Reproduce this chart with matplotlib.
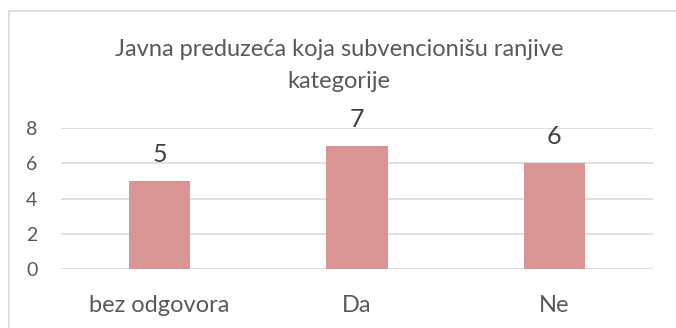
import matplotlib
matplotlib.use("Agg")
import matplotlib.pyplot as plt
from matplotlib.lines import Line2D

categories = ["bez odgovora", "Da", "Ne"]
values = [5, 7, 6]
y_ticks = [0, 2, 4, 6, 8]
title_lines = ["Javna preduzeća koja subvencionišu ranjive", "kategorije"]

W, H, DPI = 676, 328, 100
plt.rcParams["font.family"] = ["Lato", "DejaVu Sans"]

fig = plt.figure(figsize=(W / DPI, H / DPI), dpi=DPI)
fig.patch.set_facecolor("white")

# chart frame: top and left edges
border = "#D9D9D9"
fig.add_artist(Line2D([8.5 / W, 8.5 / W], [0, 1 - 10.5 / H], color=border, lw=1.2))
fig.add_artist(Line2D([8.5 / W, 1], [1 - 10.5 / H, 1 - 10.5 / H], color=border, lw=1.2))

left, right = 61 / W, 653 / W
bottom, top = (H - 269) / H, (H - 128) / H
ax = fig.add_axes([left, bottom, right - left, top - bottom])

x = list(range(len(categories)))
bars = ax.bar(x, values, width=0.31, color="#D99594", zorder=3)

ax.set_xlim(-0.5, len(categories) - 0.5)
ax.set_ylim(y_ticks[0], y_ticks[-1])
ax.set_yticks(y_ticks)
ax.set_xticks(x)
ax.set_xticklabels(categories)
ax.grid(axis="y", color="#D9D9D9", lw=1.2, zorder=0)
for s in ax.spines.values():
    s.set_visible(False)
ax.tick_params(axis="y", length=0, pad=17, labelsize=14, labelcolor="#595959")
ax.tick_params(axis="x", length=0, pad=19, labelsize=17, labelcolor="#595959")

for b, v in zip(bars, values):
    ax.annotate(str(v), (b.get_x() + b.get_width() / 2, v),
                xytext=(0, 13.5), textcoords="offset points",
                ha="center", va="baseline", fontsize=18, color="#404040")

baselines = [56, 88]
for line, yb in zip(title_lines, baselines):
    fig.text(339 / W, 1 - yb / H, line, ha="center", va="baseline",
             fontsize=17, color="#595959")

fig.savefig("out.png", dpi=DPI, facecolor="white")
